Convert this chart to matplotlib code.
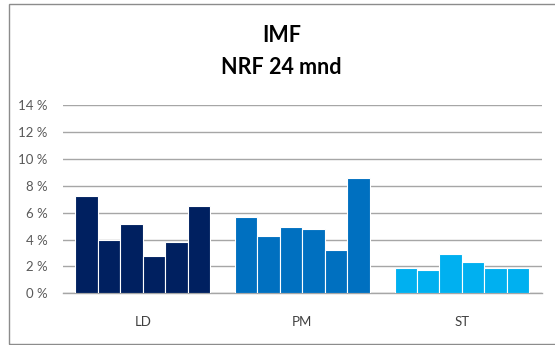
import matplotlib
matplotlib.use("Agg")
import matplotlib.pyplot as plt
from matplotlib.patches import Rectangle
import numpy as np

categories = ["LD", "PM", "ST"]
ld_values = [7.2, 3.96, 5.13, 2.77, 3.79, 6.47]
pm_values = [5.65, 4.24, 4.91, 4.78, 3.2, 8.55]
st_values = [1.86, 1.73, 2.92, 2.35, 1.86, 1.9]
colors = ["#002060", "#0070C0", "#00B0F0"]
yticks = [0, 2, 4, 6, 8, 10, 12, 14]
ytick_labels = [f"{v} %" for v in yticks]
title_lines = ["IMF", "NRF 24 mnd"]

plt.rcParams["font.family"] = ["Lato", "DejaVu Sans"]

W, H = 555, 345
fig = plt.figure(figsize=(W / 100, H / 100), dpi=100)
ax = fig.add_axes([63 / W, 1 - 293.3 / H, (541.7 - 63) / W, (293.3 - 105) / H])

groups = [ld_values, pm_values, st_values]
n = 6
slot = 0.1406
for gi, (vals, c) in enumerate(zip(groups, colors)):
    offs = (np.arange(n) - (n - 1) / 2) * slot
    ax.bar(gi + offs, vals, width=slot, color=c, edgecolor="white", linewidth=0.8, zorder=3)

ax.set_xlim(-0.5, 2.5)
ax.set_ylim(0, 14)
ax.set_yticks(yticks)
ax.set_yticklabels(ytick_labels, color="#595959", fontsize=9.5)
ax.set_xticks(range(3))
ax.set_xticklabels(categories, color="#404040", fontsize=9.5)
ax.tick_params(axis="both", length=0)
ax.tick_params(axis="y", pad=11)
ax.tick_params(axis="x", pad=16)
ax.grid(axis="y", color="#A6A6A6", linewidth=1.0, zorder=0)
for s in ["left", "right", "top"]:
    ax.spines[s].set_visible(False)
ax.spines["bottom"].set_color("#A6A6A6")
ax.spines["bottom"].set_linewidth(1.0)

fig.text(281.7 / W, 1 - 35 / H, title_lines[0], ha="center", va="center",
         fontsize=15.5, fontweight="bold", color="black")
fig.text(281.7 / W, 1 - 68 / H, title_lines[1], ha="center", va="center",
         fontsize=15.5, fontweight="bold", color="black")

border = Rectangle((8.5 / W, 1 - 344 / H), (600 - 8.5) / W, (344 - 3.5) / H,
                   transform=fig.transFigure, fill=False, edgecolor="#8C8C8C",
                   linewidth=1.0, clip_on=False)
fig.patches.append(border)

fig.savefig("out.png", dpi=100, facecolor="white")
